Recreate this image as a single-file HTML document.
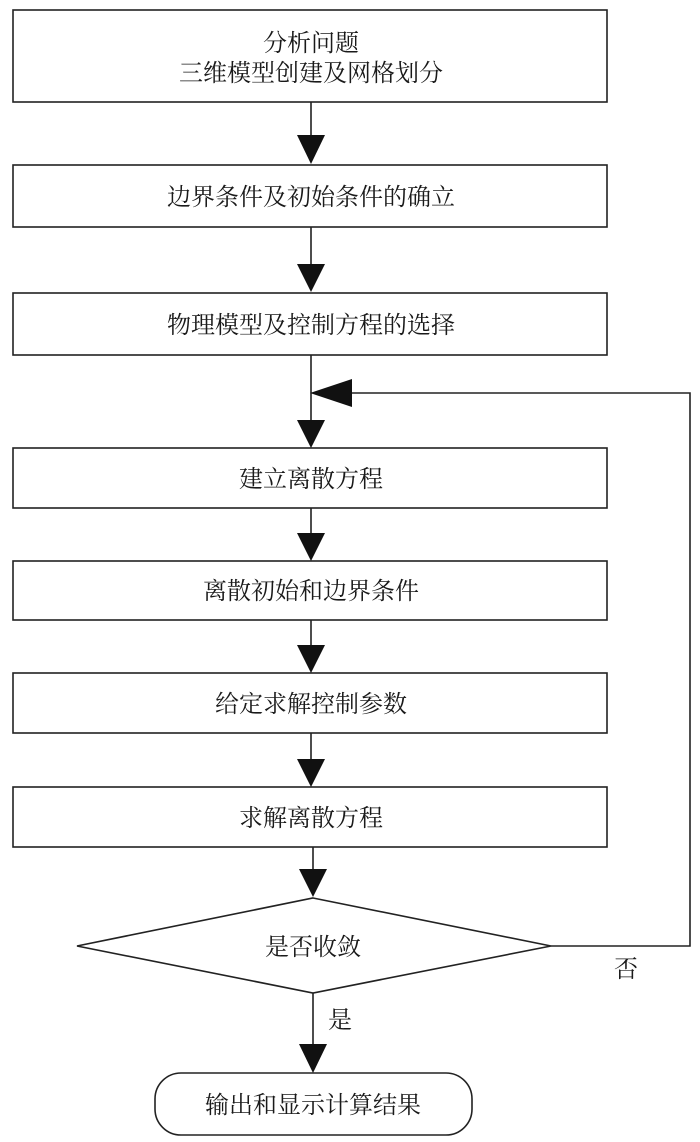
<!DOCTYPE html>
<html><head><meta charset="utf-8"><style>
body{margin:0;background:#fff;}
svg text{font-family:"Liberation Serif","Noto Serif CJK SC","Noto Sans CJK SC",serif;font-size:24px;fill:#1a1a1a;text-anchor:middle;}
</style></head><body>
<svg width="700" height="1137" viewBox="0 0 700 1137" xmlns="http://www.w3.org/2000/svg">
<g fill="none" stroke="#222" stroke-width="1.6">
<rect x="13" y="10" width="594" height="92"/>
<rect x="13" y="165" width="594" height="62"/>
<rect x="13" y="293" width="594" height="62"/>
<rect x="13" y="448" width="594" height="60"/>
<rect x="13" y="561" width="594" height="59"/>
<rect x="13" y="673" width="594" height="60"/>
<rect x="13" y="787" width="594" height="60"/>
<polygon points="313,898 551,946 313,993 77,946"/>
<rect x="155" y="1073" width="317" height="62" rx="26"/>
<line x1="311" y1="102" x2="311" y2="140"/>
<line x1="311" y1="227" x2="311" y2="265"/>
<line x1="311" y1="355" x2="311" y2="425"/>
<line x1="311" y1="508" x2="311" y2="535"/>
<line x1="311" y1="620" x2="311" y2="648"/>
<line x1="311" y1="733" x2="311" y2="762"/>
<line x1="313" y1="847" x2="313" y2="872"/>
<line x1="313" y1="993" x2="313" y2="1048"/>
<polyline points="551,946 690,946 690,393 340,393"/>
</g>
<g fill="#111">
<polygon points="297,135 325,135 311,164"/>
<polygon points="297,264 325,264 311,292"/>
<polygon points="297,420 325,420 311,448"/>
<polygon points="297,533 325,533 311,561"/>
<polygon points="297,645 325,645 311,673"/>
<polygon points="297,759 325,759 311,787"/>
<polygon points="299,869 327,869 313,897"/>
<polygon points="299,1044 327,1044 313,1073"/>
<polygon points="310,393 352,379 352,407"/>
</g>
<text x="311" y="51">分析问题</text>
<text x="311" y="81">三维模型创建及网格划分</text>
<text x="311" y="205">边界条件及初始条件的确立</text>
<text x="311" y="333">物理模型及控制方程的选择</text>
<text x="311" y="487">建立离散方程</text>
<text x="311" y="599">离散初始和边界条件</text>
<text x="311" y="712">给定求解控制参数</text>
<text x="311" y="826">求解离散方程</text>
<text x="313" y="955">是否收敛</text>
<text x="626" y="977">否</text>
<text x="340" y="1028">是</text>
<text x="313" y="1113">输出和显示计算结果</text>
</svg>
</body></html>
